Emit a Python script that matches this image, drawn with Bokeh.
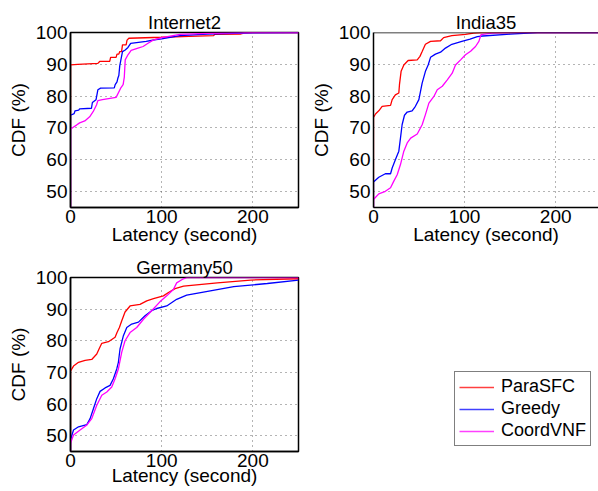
from bokeh.plotting import figure
from bokeh.layouts import column, row
from bokeh.models import FixedTicker, Range1d, Legend, LegendItem, Span
from bokeh.embed import file_html
from bokeh.resources import INLINE

FONT = "Liberation Sans"
series_names = ["ParaSFC", "Greedy", "CoordVNF"]
colors = ["#ff0000", "#0000ff", "#ff00ff"]
x_ticks = [0, 100, 200]
y_ticks = [50, 60, 70, 80, 90, 100]

# ---------------- Internet2 ----------------
inet_para_x = [0, 0, 8, 30, 32, 43, 44, 50, 51, 53, 54, 56, 57, 61, 62, 64, 100, 130, 157, 158, 186, 190, 200, 250]
inet_para_y = [0, 89.8, 90.0, 90.3, 90.9, 90.9, 92.2, 92.2, 93.2, 93.2, 94.0, 94.0, 96.1, 96.1, 97.6, 98.2, 98.5, 98.8, 99.0, 99.4, 99.5, 99.8, 100, 100]
inet_greedy_x = [0, 0, 4, 5, 9, 10, 23, 24, 28, 30, 33, 48, 49, 51, 52, 53, 54, 56, 57, 60, 63, 66, 83, 94, 100, 120, 150, 200, 250]
inet_greedy_y = [0, 74.0, 74.5, 75.4, 75.6, 76.0, 76.2, 78.0, 78.9, 82.0, 82.5, 82.6, 83.6, 84.5, 85.7, 86.5, 89.5, 92.5, 94.0, 94.5, 95.3, 96.6, 97.2, 97.8, 98.0, 99.0, 99.5, 99.9, 100]
inet_coord_x = [0, 0, 3, 6.6, 10, 15.7, 21, 24.8, 28.5, 30, 35, 50, 55, 57.7, 59, 60, 63, 66.5, 74, 79.6, 85, 90.6, 100, 120, 150, 200, 250]
inet_coord_y = [0, 69.6, 70.2, 70.9, 71.6, 72.2, 73.5, 75.1, 77.2, 78.6, 78.9, 79.6, 82.5, 83.6, 86.0, 91.4, 93.0, 94.4, 95.1, 95.6, 96.6, 97.6, 98.4, 99.4, 99.7, 100, 100]

# ---------------- India35 ----------------
india_para_x = [0, 0, 2.2, 5.8, 9.5, 18.7, 20.5, 24, 27.8, 28.5, 30.3, 33.3, 38, 48, 51, 53.4, 57, 62.6, 73.6, 77, 86, 101, 110, 120, 250]
india_para_y = [0, 73.3, 74.4, 75.4, 76.8, 77.1, 78.9, 80.4, 81.0, 83.6, 87.8, 89.8, 91.2, 91.4, 92.5, 94.0, 96.3, 97.2, 97.4, 98.4, 99.0, 99.4, 99.8, 100, 100]
india_greedy_x = [0, 0, 5.8, 13, 18.7, 20.5, 24, 27.8, 29.6, 31.4, 34, 37, 42.4, 46, 49.8, 51.6, 53.4, 57, 60, 62.6, 68, 73.6, 79, 86, 97, 106, 114, 120, 150, 180, 250]
india_greedy_y = [0, 53.0, 54.5, 55.6, 55.6, 57.4, 60.0, 62.7, 66.8, 71.0, 74.0, 75.0, 75.4, 76.8, 78.9, 81.5, 84.1, 87.8, 89.8, 92.2, 93.2, 93.8, 95.1, 96.3, 97.2, 97.9, 98.7, 98.9, 99.5, 100, 100]
india_coord_x = [0, 0, 5.8, 13, 18.7, 22.3, 26, 29.6, 33.3, 37, 40.8, 48, 53.4, 57, 60.8, 66.3, 70, 75.5, 81, 86.4, 90, 95.6, 101, 106.6, 112, 115.7, 118, 130, 150, 250]
india_coord_y = [0, 47.5, 49.3, 50.1, 51.2, 53.3, 55.3, 58.5, 62.7, 65.3, 66.8, 68.1, 71.0, 74.2, 77.8, 79.9, 82.0, 83.1, 85.1, 87.2, 89.8, 91.4, 93.0, 94.1, 95.6, 97.2, 99.3, 99.8, 100, 100]

# ---------------- Germany50 ----------------
ger_para_x = [0, 0, 3.3, 8.8, 16, 23.3, 28.8, 31.3, 34.3, 41.6, 48.9, 51, 53.6, 56.2, 59.8, 65.3, 76.2, 83.6, 91, 101.9, 107, 114.6, 124, 161, 197.5, 250]
ger_para_y = [0, 70.4, 72.0, 73.2, 73.8, 74.1, 75.8, 77.4, 79.2, 79.7, 81.1, 82.6, 84.2, 86.3, 89.1, 91.0, 91.5, 92.6, 93.3, 94.2, 95.2, 96.5, 97.3, 98.3, 99.2, 99.6]
ger_greedy_x = [0, 0, 3.3, 8.8, 17.9, 21.5, 25.2, 28.8, 32.4, 37.9, 43.4, 47, 50.7, 52.5, 54.3, 58, 61.7, 67.1, 74.5, 81.7, 89, 94.5, 105.5, 116.4, 127.4, 142.7, 179, 215.8, 250]
ger_greedy_y = [0, 48.7, 51.8, 52.8, 53.5, 55.4, 58.6, 61.7, 64.0, 65.1, 65.9, 68.0, 71.1, 73.2, 77.4, 81.6, 84.2, 85.3, 85.9, 87.9, 89.5, 90.2, 91.0, 93.1, 94.4, 95.2, 97.1, 98.1, 99.2]
ger_coord_x = [0, 0, 3.3, 10.5, 18, 23.3, 28.8, 34.3, 39.8, 45.2, 48.9, 52.5, 56.2, 59.8, 65.3, 72.6, 80, 89, 98, 105.5, 112.8, 116.4, 123.8, 128, 250]
ger_coord_y = [0, 47.6, 50.2, 51.8, 53.4, 55.4, 59.6, 62.8, 63.8, 65.4, 68.0, 71.1, 76.4, 80.0, 82.6, 84.2, 86.8, 89.5, 92.3, 94.2, 96.2, 98.3, 99.6, 100, 100]


def make_fig(title, series, width, height, left, right, top, bottom, x_end,
             outline=True, xlabel_standoff=-5):
    p = figure(width=width, height=height, output_backend="svg", toolbar_location=None,
               x_range=Range1d(0, x_end), y_range=Range1d(45, 100),
               min_border_left=left, min_border_right=right,
               min_border_top=top, min_border_bottom=bottom,
               title=title, x_axis_label="Latency (second)", y_axis_label="CDF (%)")
    p.title.align = "center"
    p.title.text_font = FONT
    p.title.text_font_size = "18.5px"
    p.title.text_font_style = "normal"
    p.title.text_color = "black"
    p.title.standoff = 0
    p.title.offset = 0
    for ax in p.axis:
        ax.axis_label_text_font = FONT
        ax.axis_label_text_font_size = "19px"
        ax.axis_label_text_font_style = "normal"
        ax.major_label_text_font = FONT
        ax.major_label_text_font_size = "19px"
        ax.major_label_text_color = "black"
        ax.axis_label_text_color = "black"
        ax.axis_line_color = "black"
        ax.axis_line_width = 1.5
        ax.major_tick_line_color = None
        ax.minor_tick_line_color = None
        ax.major_tick_out = 0
        ax.major_tick_in = 0
        ax.minor_tick_out = 0
        ax.minor_tick_in = 0
    p.xaxis.major_label_standoff = 2
    p.yaxis.major_label_standoff = 3
    p.xaxis.axis_label_standoff = xlabel_standoff
    p.yaxis.axis_label_standoff = 4
    p.xaxis.ticker = FixedTicker(ticks=x_ticks)
    p.yaxis.ticker = FixedTicker(ticks=y_ticks)
    p.xgrid.ticker = FixedTicker(ticks=x_ticks)
    p.ygrid.ticker = FixedTicker(ticks=y_ticks)
    for g in p.grid:
        g.grid_line_color = "#444444"
        g.grid_line_alpha = 0.8
        g.grid_line_dash = "1 4"
        g.grid_line_width = 1
    if outline:
        p.outline_line_color = "black"
        p.outline_line_width = 1.5
        p.outline_line_alpha = 1
    else:
        p.outline_line_color = None
        p.add_layout(Span(location=100, dimension="width", line_color="black", line_width=1.5))
    for (xs, ys), c in zip(series, colors):
        p.line(xs, ys, line_color=c, line_width=1.3)
    return p


p1 = make_fig("Internet2",
              [(inet_para_x, inet_para_y), (inet_greedy_x, inet_greedy_y), (inet_coord_x, inet_coord_y)],
              300, 252, 70, 2, 32, 45, 250, xlabel_standoff=-2)
p2 = make_fig("India35",
              [(india_para_x, india_para_y), (india_greedy_x, india_greedy_y), (india_coord_x, india_coord_y)],
              298, 252, 73, 0, 32, 45, 247, outline=False, xlabel_standoff=-2)
p3 = make_fig("Germany50",
              [(ger_para_x, ger_para_y), (ger_greedy_x, ger_greedy_y), (ger_coord_x, ger_coord_y)],
              300, 239, 70, 2, 25, 40, 250, xlabel_standoff=-5)

p4 = figure(width=298, height=239, output_backend="svg", toolbar_location=None,
            x_axis_location=None, y_axis_location=None,
            x_range=Range1d(0, 1), y_range=Range1d(0, 1),
            min_border_left=0, min_border_right=0, min_border_top=0, min_border_bottom=0)
p4.grid.visible = False
p4.outline_line_color = None
items = []
for name, c in zip(series_names, colors):
    # legend-only renderer: a single missing point, so nothing is drawn in the frame
    r = p4.line(x=[float("nan")], y=[float("nan")], line_color=c, line_width=1.3, line_alpha=0.75)
    items.append(LegendItem(label=name, renderers=[r]))
legend = Legend(items=items, location=(154, 5))
legend.label_text_font = FONT
legend.label_text_font_size = "18px"
legend.label_text_color = "black"
legend.glyph_width = 35
legend.glyph_height = 20
legend.label_height = 20
legend.label_standoff = 7
legend.padding = 4
legend.spacing = 1
legend.margin = 0
legend.border_line_color = "black"
legend.border_line_width = 1
legend.background_fill_alpha = 1
p4.add_layout(legend, "center")

layout = column(row(p1, p2), row(p3, p4))

with open("out.html", "w") as f:
    f.write(file_html(layout, INLINE))
